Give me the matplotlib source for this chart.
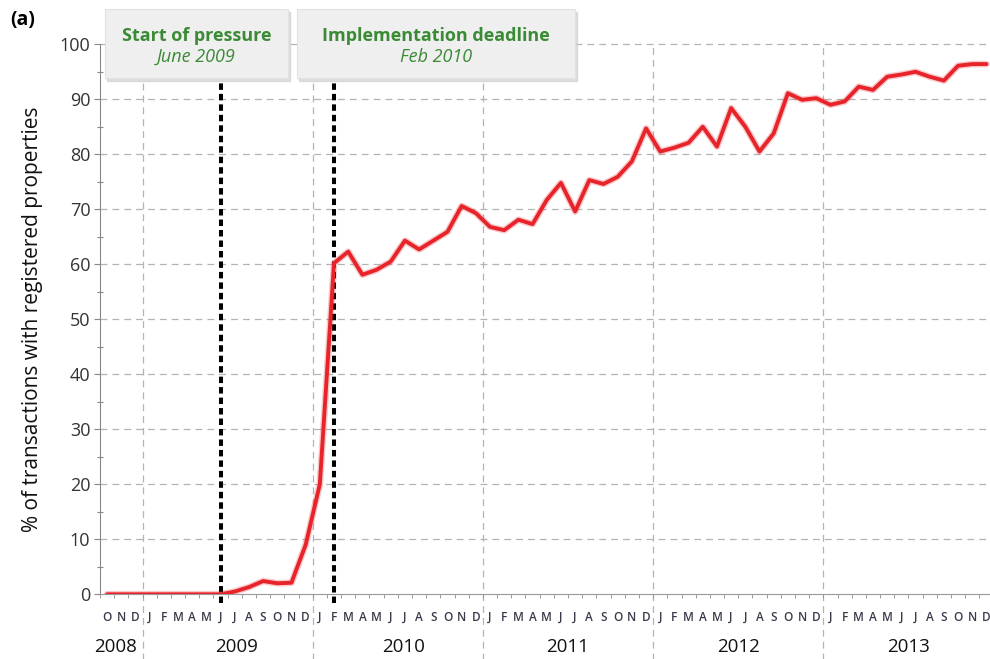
import numpy as np
import matplotlib.pyplot as plt
from matplotlib.patches import Rectangle

# monthly share of transactions with registered properties, Oct 2008 - Dec 2013
values_2008 = [0, 0, 0]
values_2009 = [0, 0, 0, 0, 0, 0, 0.5, 1.3, 2.4, 2.0, 2.1, 9.0]
values_2010 = [20, 60.2, 62.3, 58.1, 59.0, 60.5, 64.3, 62.7, 64.3, 65.9, 70.6, 69.3]
values_2011 = [66.8, 66.2, 68.1, 67.3, 71.7, 74.8, 69.6, 75.3, 74.6, 75.9, 78.7, 84.7]
values_2012 = [80.5, 81.2, 82.1, 85.0, 81.4, 88.4, 85.0, 80.5, 83.8, 91.1, 89.9, 90.2]
values_2013 = [89.0, 89.6, 92.3, 91.7, 94.1, 94.5, 95.0, 94.1, 93.4, 96.1, 96.4, 96.4]

month_letters = ['O', 'N', 'D'] + ['J', 'F', 'M', 'A', 'M', 'J', 'J', 'A', 'S', 'O', 'N', 'D'] * 5
years = ['2008', '2009', '2010', '2011', '2012', '2013']
year_months = [3, 12, 12, 12, 12, 12]

events = ['Start of pressure', 'Implementation deadline']
event_dates = ['June 2009', 'Feb 2010']
event_month = [8, 16]  # index from Oct 2008

values = values_2008 + values_2009 + values_2010 + values_2011 + values_2012 + values_2013
x = np.arange(len(values)) + 0.5

plt.rcParams['font.family'] = ['Open Sans', 'DejaVu Sans']

green = '#3b8a35'
grid_col = '#b4b4b4'
text_col = '#333333'

fig = plt.figure(figsize=(9.9, 6.59), dpi=100)
ax = fig.add_axes([0.101, 0.0982, 0.899, 0.8346])

ax.set_xlim(0, 62.75)
ax.set_ylim(0, 100)

# horizontal dashed grid
for v in range(10, 101, 10):
    ax.plot([0, 62.75], [v, v], color=grid_col, lw=0.9, dashes=(5.5, 4), zorder=1, clip_on=False)

# year separators, running down through the labels
bounds = np.cumsum(year_months)[:-1]
for b in bounds:
    ax.plot([b, b], [-12, 100], color=grid_col, lw=0.9, dashes=(5.5, 4), zorder=1, clip_on=False)

# event lines
for m in event_month:
    ax.plot([m + 0.5, m + 0.5], [-1.5, 93.5], color='black', lw=2.9, dashes=(1.6, 1.0),
            zorder=3, clip_on=False)

# the series
ax.plot(x, values, color='#e8242b', lw=4.8, alpha=0.25, solid_joinstyle='round',
        solid_capstyle='round', zorder=4)
ax.plot(x, values, color='#e8242b', lw=2.8, solid_joinstyle='round',
        solid_capstyle='round', zorder=5)

for s in ['top', 'right']:
    ax.spines[s].set_visible(False)
ax.spines['left'].set_color('#888888')
ax.spines['bottom'].set_color('#999999')
ax.spines['left'].set_linewidth(0.8)
ax.spines['bottom'].set_linewidth(0.8)

ax.set_yticks(range(0, 101, 10))
ax.set_yticks(range(5, 100, 10), minor=True)
ax.tick_params(axis='y', which='major', length=4, width=0.8, color='#888888',
               labelsize=13, labelcolor=text_col, pad=3)
ax.tick_params(axis='y', which='minor', direction='inout', length=5, width=0.8, color='#888888')

ax.set_xticks(x)
ax.set_xticklabels(month_letters, fontweight='semibold')
ax.set_xticks(np.arange(0, 63), minor=True)
ax.tick_params(axis='x', which='major', length=0, labelsize=8.5, labelcolor='#3a3a4a', pad=12)
ax.tick_params(axis='x', which='minor', length=3, width=0.7, color='#999999')

# year labels
year_pos = [1.1, 9.6, 21.4, 33.0, 45.0, 57.0]
for yr, xp in zip(years, year_pos):
    ax.text(xp, -9.6, yr, ha='center', va='center', fontsize=13.5, color='#111111')

ax.set_ylabel('% of transactions with registered properties', fontsize=15, color='#111111', labelpad=12)

# event boxes at the top
boxes = [(105, 288), (297, 575)]
for (x0, x1), title, date in zip(boxes, events, event_dates):
    w = (x1 - x0) / 990
    h = (78 - 9) / 659
    fig.patches.append(Rectangle((x0 / 990 + 0.002, 1 - 78 / 659 - 0.004), w, h,
                                 transform=fig.transFigure, color='#d0d0d0', alpha=0.7, zorder=0))
    fig.patches.append(Rectangle((x0 / 990, 1 - 78 / 659), w, h, transform=fig.transFigure,
                                 facecolor='#efefef', edgecolor='#e2e2e2', lw=0.8, zorder=1))
    cx = (x0 + x1) / 2 / 990
    fig.text(cx, 1 - 36 / 659, title, ha='center', va='center', fontsize=13,
             fontweight='bold', color=green)
    fig.text(cx, 1 - 57 / 659, date, ha='center', va='center', fontsize=13,
             style='italic', color=green)

fig.text(0.01, 1 - 20 / 659, '(a)', ha='left', va='center', fontsize=14, fontweight='bold')

plt.savefig('out.png', dpi=100)
